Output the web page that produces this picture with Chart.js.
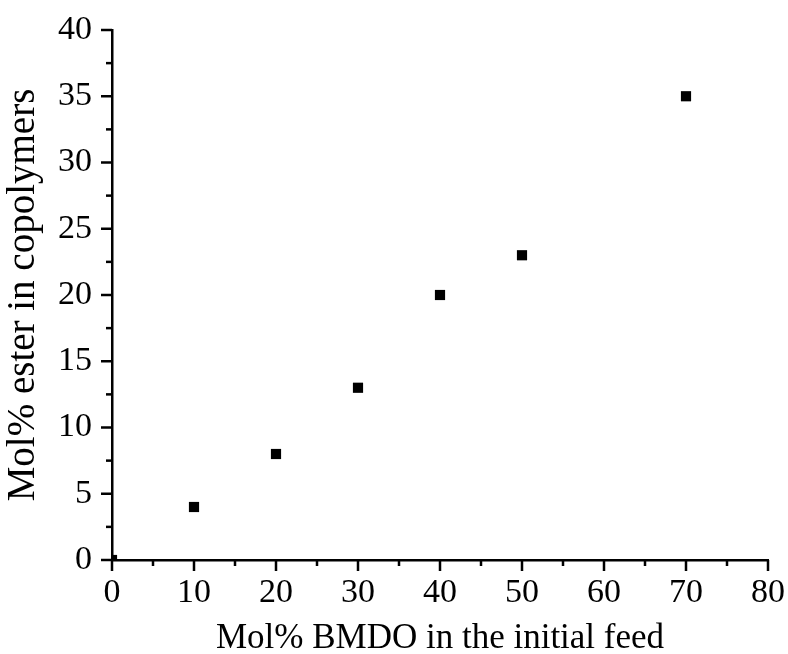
<!DOCTYPE html>
<html>
<head>
<meta charset="utf-8">
<script src="https://cdn.jsdelivr.net/npm/chart.js@4"></script>
<style>
html,body{margin:0;padding:0;background:#fff;}
#wrap{width:788px;height:654px;position:relative;}
</style>
</head>
<body>
<div id="wrap"><canvas id="c" width="788" height="654"></canvas></div>
<script>
const feedBMDO = [0, 10, 20, 30, 40, 50, 70];
const esterInCopolymer = [0, 4, 8, 13, 20, 23, 35];
const xTitle = 'Mol% BMDO in the initial feed';
const yTitle = 'Mol% ester in copolymers';

const points = feedBMDO.map((x, i) => ({x: x, y: esterInCopolymer[i]}));
const FONT = "'Liberation Serif', 'Times New Roman', serif";

const tickPlugin = {
  id: 'ticksDraw',
  afterDatasetsDraw(chart) {
    const ctx = chart.ctx;
    const xs = chart.scales.x, ys = chart.scales.y;
    const ca = chart.chartArea;
    ctx.save();
    ctx.strokeStyle = '#000';
    ctx.lineWidth = 2.5;
    ctx.lineCap = 'butt';
    for (let v = 0; v <= 80; v += 5) {
      const px = xs.getPixelForValue(v);
      const len = (v % 10 === 0) ? 11 : 6;
      ctx.beginPath();
      ctx.moveTo(px, ca.bottom);
      ctx.lineTo(px, ca.bottom + len);
      ctx.stroke();
    }
    for (let v = 0; v <= 40; v += 2.5) {
      const py = ys.getPixelForValue(v);
      const len = (v % 5 === 0) ? 11 : 6;
      ctx.beginPath();
      ctx.moveTo(ca.left, py);
      ctx.lineTo(ca.left - len, py);
      ctx.stroke();
    }
    ctx.restore();
  }
};

new Chart(document.getElementById('c'), {
  type: 'scatter',
  data: {
    datasets: [{
      data: points,
      backgroundColor: '#000',
      borderColor: '#000',
      pointStyle: 'rect',
      pointRadius: 7.2,
      pointHoverRadius: 7.2,
      borderWidth: 0,
      clip: 0
    }]
  },
  options: {
    responsive: false,
    animation: false,
    devicePixelRatio: 1,
    layout: {padding: {left: 0, top: 30, right: 20, bottom: 0}},
    plugins: {legend: {display: false}, tooltip: {enabled: false}},
    scales: {
      x: {
        type: 'linear', min: 0, max: 80,
        afterFit(s) { s.height = 94; },
        border: {display: true, color: '#000', width: 2.5},
        grid: {display: true, drawOnChartArea: false, drawTicks: true, tickLength: 11, tickColor: 'rgba(0,0,0,0)'},
        ticks: {stepSize: 10, color: '#000', font: {family: FONT, size: 34}, padding: 2, maxRotation: 0},
        title: {display: true, text: xTitle, color: '#000', font: {family: FONT, size: 35}, padding: {top: 0, bottom: -6}}
      },
      y: {
        type: 'linear', min: 0, max: 40,
        afterFit(s) { s.width = 112; },
        border: {display: true, color: '#000', width: 2.5},
        grid: {display: true, drawOnChartArea: false, drawTicks: true, tickLength: 11, tickColor: 'rgba(0,0,0,0)'},
        ticks: {stepSize: 5, color: '#000', font: {family: FONT, size: 34}, padding: 9},
        title: {display: true, text: yTitle, color: '#000', font: {family: FONT, size: 39}, padding: {top: 0, bottom: 0}}
      }
    }
  },
  plugins: [tickPlugin]
});
</script>
</body>
</html>
